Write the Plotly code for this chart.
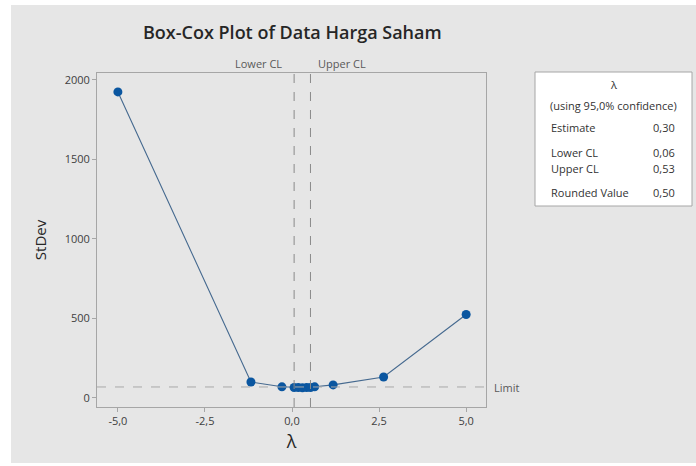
import plotly.graph_objects as go

# Box-Cox profile: lambda values and the standard deviation of the transformed data
lambdas = [-5.0, -1.18, -0.29, 0.06, 0.18, 0.30, 0.42, 0.53, 0.65, 1.18, 2.63, 5.0]
stdevs = [1925, 100, 70, 66, 65, 64, 65, 66, 70, 82, 132, 525]

lower_cl = 0.06
upper_cl = 0.53
estimate = 0.30
rounded_value = 0.50
limit = 69

x_ticks = [-5.0, -2.5, 0.0, 2.5, 5.0]
x_ticktext = ["-5,0", "-2,5", "0,0", "2,5", "5,0"]
y_ticks = [0, 500, 1000, 1500, 2000]

W, H = 696, 466
L, R, T, B = 97, 486, 73, 407  # plot-area edges in pixels


def px(x):
    return (x - L) / (R - L)


def py(y):
    return (B - y) / (B - T)


def fmt(v):
    return f"{v:.2f}".replace(".", ",")


FONT = "Open Sans"
GRID = "#a6a6a6"

fig = go.Figure()
fig.add_trace(go.Scatter(
    x=lambdas, y=stdevs, mode="lines+markers",
    line=dict(color="#45698f", width=1.1),
    marker=dict(color="#0a56a0", size=9),
    hoverinfo="x+y", showlegend=False,
))

shapes = [
    # grey panel behind the chart
    dict(type="rect", xref="paper", yref="paper", x0=px(11), x1=px(W), y0=py(463), y1=py(5),
         fillcolor="#e6e6e6", line=dict(width=0), layer="below"),
    # confidence limits
    dict(type="line", xref="x", yref="paper", x0=lower_cl, x1=lower_cl, y0=0, y1=1,
         line=dict(color="#8a8a8a", width=1, dash="dash")),
    dict(type="line", xref="x", yref="paper", x0=upper_cl, x1=upper_cl, y0=0, y1=1,
         line=dict(color="#8a8a8a", width=1, dash="dash")),
    # limit line
    dict(type="line", xref="paper", yref="y", x0=0, x1=1, y0=limit, y1=limit,
         line=dict(color="#a8a8a8", width=1, dash="dash")),
    # lambda summary box
    dict(type="rect", xref="paper", yref="paper", x0=px(535), x1=px(692), y0=py(206), y1=py(72),
         fillcolor="white", line=dict(color="#a6a6a6", width=1)),
]

ann = []


def text(x, y, s, size=11, color="#333333", xanchor="left", weight="normal"):
    ann.append(dict(x=px(x), y=py(y), xref="paper", yref="paper", text=s, showarrow=False,
                    xanchor=xanchor, yanchor="middle",
                    font=dict(family=FONT, size=size, color=color, weight=weight)))


text(292, 32, "Box-Cox Plot of Data Harga Saham", size=18, color="#262626", xanchor="center", weight=600)
text(284, 63, "Lower CL", size=11, color="#595959", xanchor="right")
text(316, 63, "Upper CL", size=11, color="#595959", xanchor="left")
text(492, 387, "Limit", size=11, color="#595959", xanchor="left")

text(613, 85, "λ", xanchor="center")
text(613, 105, "(using 95,0% confidence)", xanchor="center")
text(549, 127, "Estimate")
text(677, 127, fmt(estimate), xanchor="right")
text(549, 152, "Lower CL")
text(677, 152, fmt(lower_cl), xanchor="right")
text(549, 168, "Upper CL")
text(677, 168, fmt(upper_cl), xanchor="right")
text(549, 192, "Rounded Value")
text(677, 192, fmt(rounded_value), xanchor="right")

axis_common = dict(
    showgrid=False, zeroline=False, showline=True, linecolor=GRID, linewidth=1, mirror=True,
    ticks="outside", ticklen=4, tickcolor=GRID,
    tickfont=dict(family=FONT, size=11, color="#404040"),
)

fig.update_layout(
    width=W, height=H,
    margin=dict(l=L, r=W - R, t=T, b=H - B),
    paper_bgcolor="white", plot_bgcolor="white",
    separators=",.",
    font=dict(family=FONT),
    shapes=shapes, annotations=ann,
    xaxis=dict(range=[-5.6, 5.57], tickvals=x_ticks, ticktext=x_ticktext,
               title=dict(text="λ", font=dict(family=FONT, size=18, color="#262626"), standoff=8),
               **axis_common),
    yaxis=dict(range=[-57, 2044], tickvals=y_ticks,
               title=dict(text="StDev", font=dict(family=FONT, size=15, color="#262626"), standoff=14),
               **axis_common),
)

fig.write_html("out.html")
